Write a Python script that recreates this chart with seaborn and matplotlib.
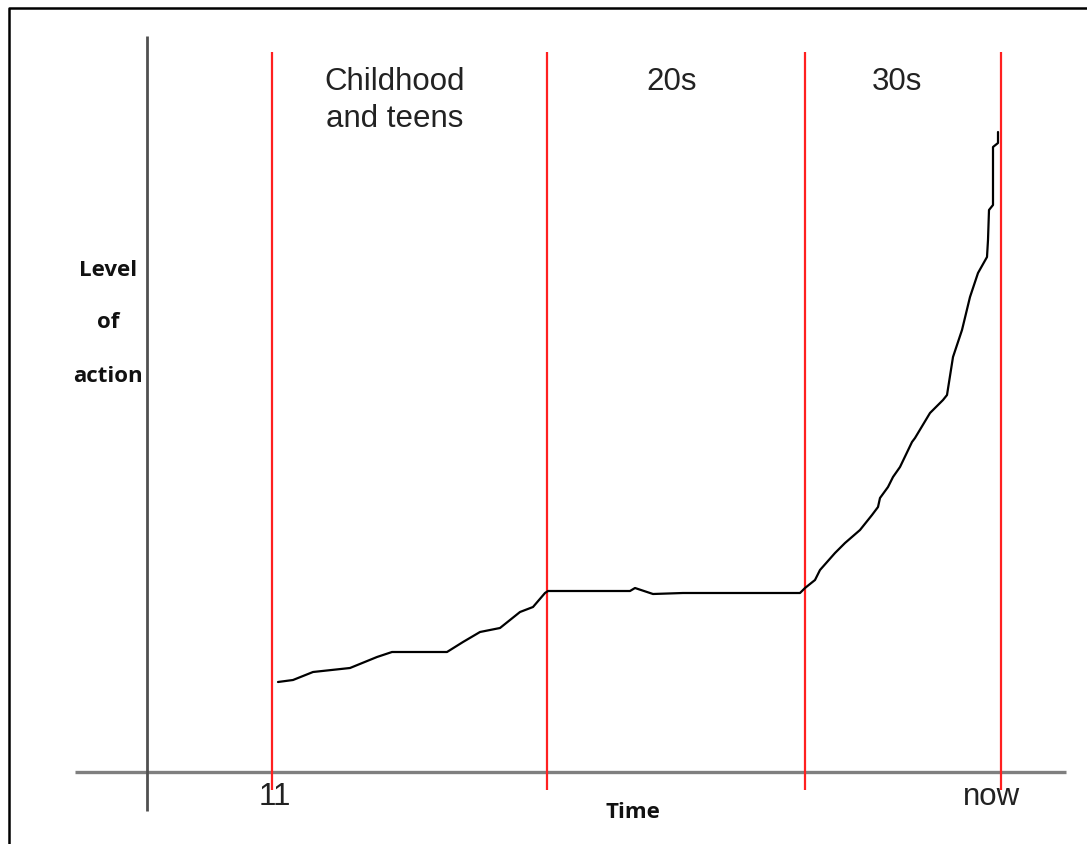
import matplotlib
matplotlib.use("Agg")
import matplotlib.pyplot as plt
import seaborn as sns
import pandas as pd
from matplotlib.lines import Line2D

sns.set_style("white")
plt.rcParams['font.family'] = ['Liberation Sans', 'DejaVu Sans']

# Curve (arbitrary units: time, level of action)
time = [131, 146, 166, 203, 230, 245, 300, 316, 333, 353, 373, 386, 398, 401,
        483, 488, 506, 536, 653, 658, 668, 673, 688, 698, 713, 725, 731, 733,
        741, 746, 753, 765, 768, 783, 796, 800, 806, 815, 823, 831, 840, 841,
        842, 846, 846, 851, 851]
level = [90, 92, 100, 104, 115, 120, 120, 130, 140, 144, 160, 165, 179, 181,
         181, 184, 178, 179, 179, 184, 192, 202, 219, 229, 242, 257, 265, 274,
         285, 295, 305, 330, 334, 359, 372, 377, 415, 442, 475, 499, 515, 532,
         562, 567, 625, 629, 640]

# Era boundaries and labels
boundaries = [125, 400, 658, 854]
era_labels = ["Childhood\nand teens", "20s", "30s"]
tick_labels = ["11", "now"]
x_title = "Time"
y_title = ["Level", "of", "action"]

df = pd.DataFrame({"time": time, "level": level})

fig = plt.figure(figsize=(10.87, 8.44), dpi=100)
ax = fig.add_axes([0, 0, 1, 1])
ax.set_xlim(-147, 940)
ax.set_ylim(-72, 772)
ax.axis("off")

# hand-drawn style axes
ax.plot([-72, 919], [0, 0], color="#7f7f7f", lw=2.4, solid_capstyle="butt", zorder=1)
ax.plot([0, 0], [-39, 736], color="#505050", lw=2.0, solid_capstyle="butt", zorder=1)

# red era lines
ax.vlines(boundaries, -18, 720, color="#ff2020", lw=1.6, zorder=2)

# curve
sns.lineplot(data=df, x="time", y="level", ax=ax, color="black", lw=1.6,
             estimator=None, sort=False, zorder=3)

# era labels
txt_kw = dict(ha="center", va="top", fontsize=22.5, color="#222222")
ax.text((boundaries[0] + boundaries[1]) / 2 - 15, 705, era_labels[0],
        linespacing=1.3, **txt_kw)
ax.text((boundaries[1] + boundaries[2]) / 2 - 4, 705, era_labels[1], **txt_kw)
ax.text((boundaries[2] + boundaries[3]) / 2 - 6, 705, era_labels[2], **txt_kw)

# tick labels
ax.text(boundaries[0] + 3, -25, tick_labels[0], ha="center", va="center",
        fontsize=22.5, color="#222222")
ax.text(boundaries[3] - 9, -25, tick_labels[1], ha="center", va="center",
        fontsize=22.5, color="#222222")

# axis titles
ttl_kw = dict(ha="center", va="center", fontsize=16, fontweight="bold",
              family=["Open Sans", "DejaVu Sans"], color="#111111")
ax.text(486, -40, x_title, **ttl_kw)
for i, w in enumerate(y_title):
    ax.text(-39, 502 - 53 * i, w, **ttl_kw)

# outer frame (left and top edges visible)
fig.add_artist(Line2D([9 / 1087, 9 / 1087, 1.0], [0.0, 1 - 8 / 844, 1 - 8 / 844],
                      transform=fig.transFigure, color="black", lw=1.8))

fig.savefig("out.png", dpi=100, facecolor="white")
